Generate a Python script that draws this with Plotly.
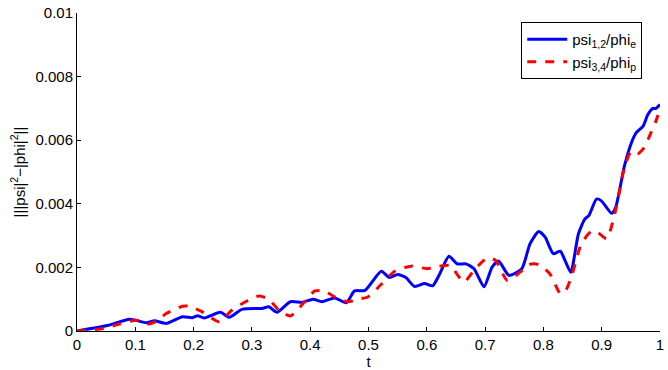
import plotly.graph_objects as go

t_blue = [0.0, 0.056, 0.090, 0.119, 0.133, 0.153, 0.181, 0.198, 0.207, 0.218, 0.246, 0.261,
          0.283, 0.317, 0.329, 0.343, 0.366, 0.386, 0.405, 0.420, 0.442, 0.462, 0.476, 0.494,
          0.522, 0.536, 0.550, 0.564, 0.579, 0.596, 0.610, 0.621, 0.638, 0.652, 0.667, 0.681,
          0.698, 0.712, 0.723, 0.741, 0.763, 0.777, 0.792, 0.803, 0.817, 0.829, 0.837, 0.847,
          0.860, 0.871, 0.878, 0.891, 0.899, 0.917, 0.924, 0.939, 0.951, 0.959, 0.971, 0.979,
          0.988, 0.993, 1.0]
psi12 = [0.0, 0.00019, 0.00037, 0.00026, 0.00032, 0.00024, 0.00045, 0.00042, 0.00048, 0.00041,
         0.00059, 0.00043, 0.00068, 0.00071, 0.00076, 0.00059, 0.00092, 0.00090, 0.00100, 0.00092,
         0.00104, 0.00089, 0.00126, 0.00128, 0.00188, 0.00168, 0.00178, 0.00168, 0.00140, 0.00149,
         0.00142, 0.00175, 0.00235, 0.00211, 0.00211, 0.00196, 0.00139, 0.00201, 0.00220, 0.00175,
         0.00196, 0.00274, 0.00313, 0.00295, 0.00243, 0.00251, 0.00222, 0.00185, 0.00305, 0.00352,
         0.00363, 0.00415, 0.00410, 0.00370, 0.00389, 0.00519, 0.00592, 0.00623, 0.00644, 0.00680,
         0.00700, 0.00700, 0.00712]

t_red = [0.0, 0.045, 0.073, 0.102, 0.124, 0.139, 0.153, 0.181, 0.192, 0.215, 0.244, 0.266,
         0.289, 0.312, 0.329, 0.346, 0.366, 0.388, 0.408, 0.425, 0.442, 0.465, 0.482, 0.499,
         0.522, 0.545, 0.573, 0.601, 0.618, 0.641, 0.652, 0.664, 0.681, 0.704, 0.718, 0.738,
         0.760, 0.775, 0.792, 0.811, 0.829, 0.837, 0.848, 0.865, 0.882, 0.893, 0.908, 0.913,
         0.925, 0.939, 0.951, 0.962, 0.973, 0.982, 0.993, 1.0]
psi34 = [0.0, 0.00008, 0.00022, 0.00034, 0.00022, 0.00034, 0.00055, 0.00078, 0.00078, 0.00060,
         0.00029, 0.00066, 0.00092, 0.00110, 0.00100, 0.00066, 0.00047, 0.00087, 0.00126, 0.00126,
         0.00107, 0.00092, 0.00100, 0.00107, 0.00147, 0.00188, 0.00204, 0.00196, 0.00203, 0.00206,
         0.00178, 0.00154, 0.00191, 0.00230, 0.00222, 0.00159, 0.00185, 0.00209, 0.00209, 0.00180,
         0.00118, 0.00123, 0.00170, 0.00274, 0.00313, 0.00310, 0.00290, 0.00305, 0.00389, 0.00514,
         0.00566, 0.00558, 0.00577, 0.00613, 0.00660, 0.00700]

x_ticks = [0, 0.1, 0.2, 0.3, 0.4, 0.5, 0.6, 0.7, 0.8, 0.9, 1]
x_labels = ["0", "0.1", "0.2", "0.3", "0.4", "0.5", "0.6", "0.7", "0.8", "0.9", "1"]
y_ticks = [0, 0.002, 0.004, 0.006, 0.008, 0.01]
y_labels = ["0", "0.002", "0.004", "0.006", "0.008", "0.01"]

fig = go.Figure()
fig.add_trace(go.Scatter(x=t_blue, y=psi12, mode="lines", name="psi<sub>1,2</sub>/phi<sub>e</sub>",
                         line=dict(color="#0000ff", width=3, shape="spline", smoothing=0.6)))
fig.add_trace(go.Scatter(x=t_red, y=psi34, mode="lines", name="psi<sub>3,4</sub>/phi<sub>p</sub>",
                         line=dict(color="#ff0000", width=3, dash="dash", shape="spline", smoothing=0.6)))

font = dict(family="Liberation Sans, Arial, sans-serif", size=15, color="black")
fig.update_layout(
    width=668, height=370,
    margin=dict(l=77, r=4, t=11, b=39),
    paper_bgcolor="white", plot_bgcolor="white",
    font=font,
    showlegend=True,
    legend=dict(x=0.762, y=0.972, xanchor="left", yanchor="top",
                bordercolor="black", borderwidth=1, bgcolor="white",
                font=dict(family="Liberation Sans, Arial, sans-serif", size=15, color="black"),
                tracegroupgap=0, itemwidth=40),
    xaxis=dict(range=[0, 1], tickvals=x_ticks, ticktext=x_labels, ticks="inside", ticklen=4,
               tickcolor="black", showline=True, linecolor="black", linewidth=1,
               showgrid=False, zeroline=False, mirror=False, ticklabeloverflow="allow",
               title=dict(text="t", standoff=2, font=font)),
    yaxis=dict(range=[0, 0.01], tickvals=y_ticks, ticktext=y_labels, ticks="inside", ticklen=4,
               tickcolor="black", showline=True, linecolor="black", linewidth=1,
               showgrid=False, zeroline=False, mirror=False, ticklabeloverflow="allow",
               title=dict(text="|||psi|<sup>2</sup>\u2212|phi|<sup>2</sup>||", standoff=6, font=font)),
)

# remove the default page margin so the 668x370 figure fills the window exactly
fig.write_html("out.html",
               config={"displayModeBar": False},
               post_script="document.body.style.margin='0';document.body.style.overflow='hidden';")
